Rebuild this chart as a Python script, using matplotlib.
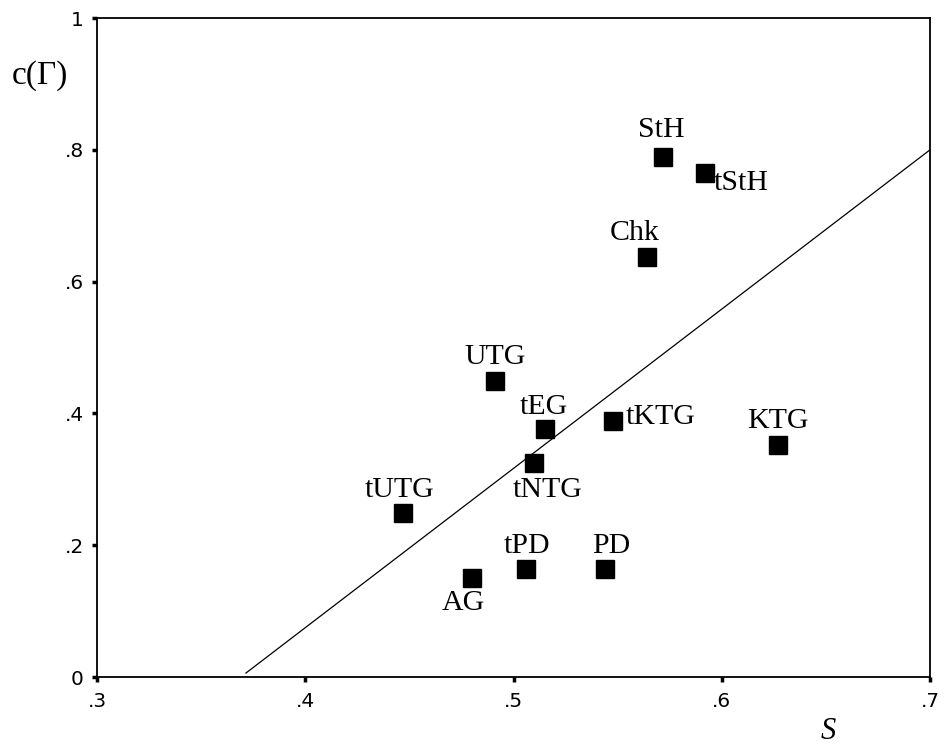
import matplotlib
matplotlib.use("Agg")
import matplotlib.pyplot as plt

labels = ["StH", "tStH", "Chk", "UTG", "tEG", "tKTG", "KTG", "tNTG", "tUTG", "tPD", "PD", "AG"]
s_vals = [0.572, 0.592, 0.564, 0.491, 0.515, 0.548, 0.627, 0.510, 0.447, 0.506, 0.544, 0.480]
c_vals = [0.789, 0.765, 0.637, 0.449, 0.376, 0.388, 0.352, 0.325, 0.249, 0.164, 0.164, 0.150]

fit_x = [0.3715, 0.70]
fit_y = [0.006, 0.800]

x_ticks = [0.3, 0.4, 0.5, 0.6, 0.7]
x_ticklabels = [".3", ".4", ".5", ".6", ".7"]
y_ticks = [0, 0.2, 0.4, 0.6, 0.8, 1.0]
y_ticklabels = ["0", ".2", ".4", ".6", ".8", "1"]

# label offsets in points (position styling)
offsets = {
    "StH": (-1.4, 19.4, "center"),
    "tStH": (5.8, -7.2, "left"),
    "Chk": (-8.6, 17.3, "center"),
    "UTG": (0, 17.3, "center"),
    "tEG": (-0.7, 15.8, "center"),
    "tKTG": (8.6, 2.9, "left"),
    "KTG": (0, 17.3, "center"),
    "tNTG": (9.4, -19.4, "center"),
    "tUTG": (-2.9, 16.6, "center"),
    "tPD": (0.7, 16.6, "center"),
    "PD": (4.3, 16.6, "center"),
    "AG": (-6.5, -18.0, "center"),
}

plt.rcParams["font.family"] = ["Liberation Serif", "DejaVu Serif"]

fig = plt.figure(figsize=(9.44, 7.47), dpi=100)
ax = fig.add_axes([0.1028, 0.0937, 0.8824, 0.8822])

ax.plot(fit_x, fit_y, color="black", lw=0.9)
ax.plot(s_vals, c_vals, linestyle="none", marker="s", markersize=12.5,
        color="black")

for lab, x, y in zip(labels, s_vals, c_vals):
    dx, dy, ha = offsets[lab]
    ax.annotate(lab, (x, y), xytext=(dx, dy), textcoords="offset points",
                ha=ha, va="center", fontsize=21.5)

ax.set_xlim(0.3, 0.7)
ax.set_ylim(0, 1)
ax.set_xticks(x_ticks)
ax.set_xticklabels(x_ticklabels)
ax.set_yticks(y_ticks)
ax.set_yticklabels(y_ticklabels)
ax.tick_params(direction="out", length=3.5, width=2.5, labelsize=14.5)
ax.tick_params(axis="x", pad=7)
ax.tick_params(axis="y", pad=6)
for t in ax.get_xticklabels() + ax.get_yticklabels():
    t.set_fontfamily("DejaVu Sans")

for sp in ax.spines.values():
    sp.set_linewidth(1.3)

ax.set_ylabel("c(Γ)", rotation=0, fontsize=24, va="center", ha="center")
ax.yaxis.set_label_coords(-0.068, 0.913)
ax.set_xlabel("S", fontsize=22, style="italic", va="center")
ax.xaxis.set_label_coords(0.878, -0.083)

fig.savefig("out.png", dpi=100)
